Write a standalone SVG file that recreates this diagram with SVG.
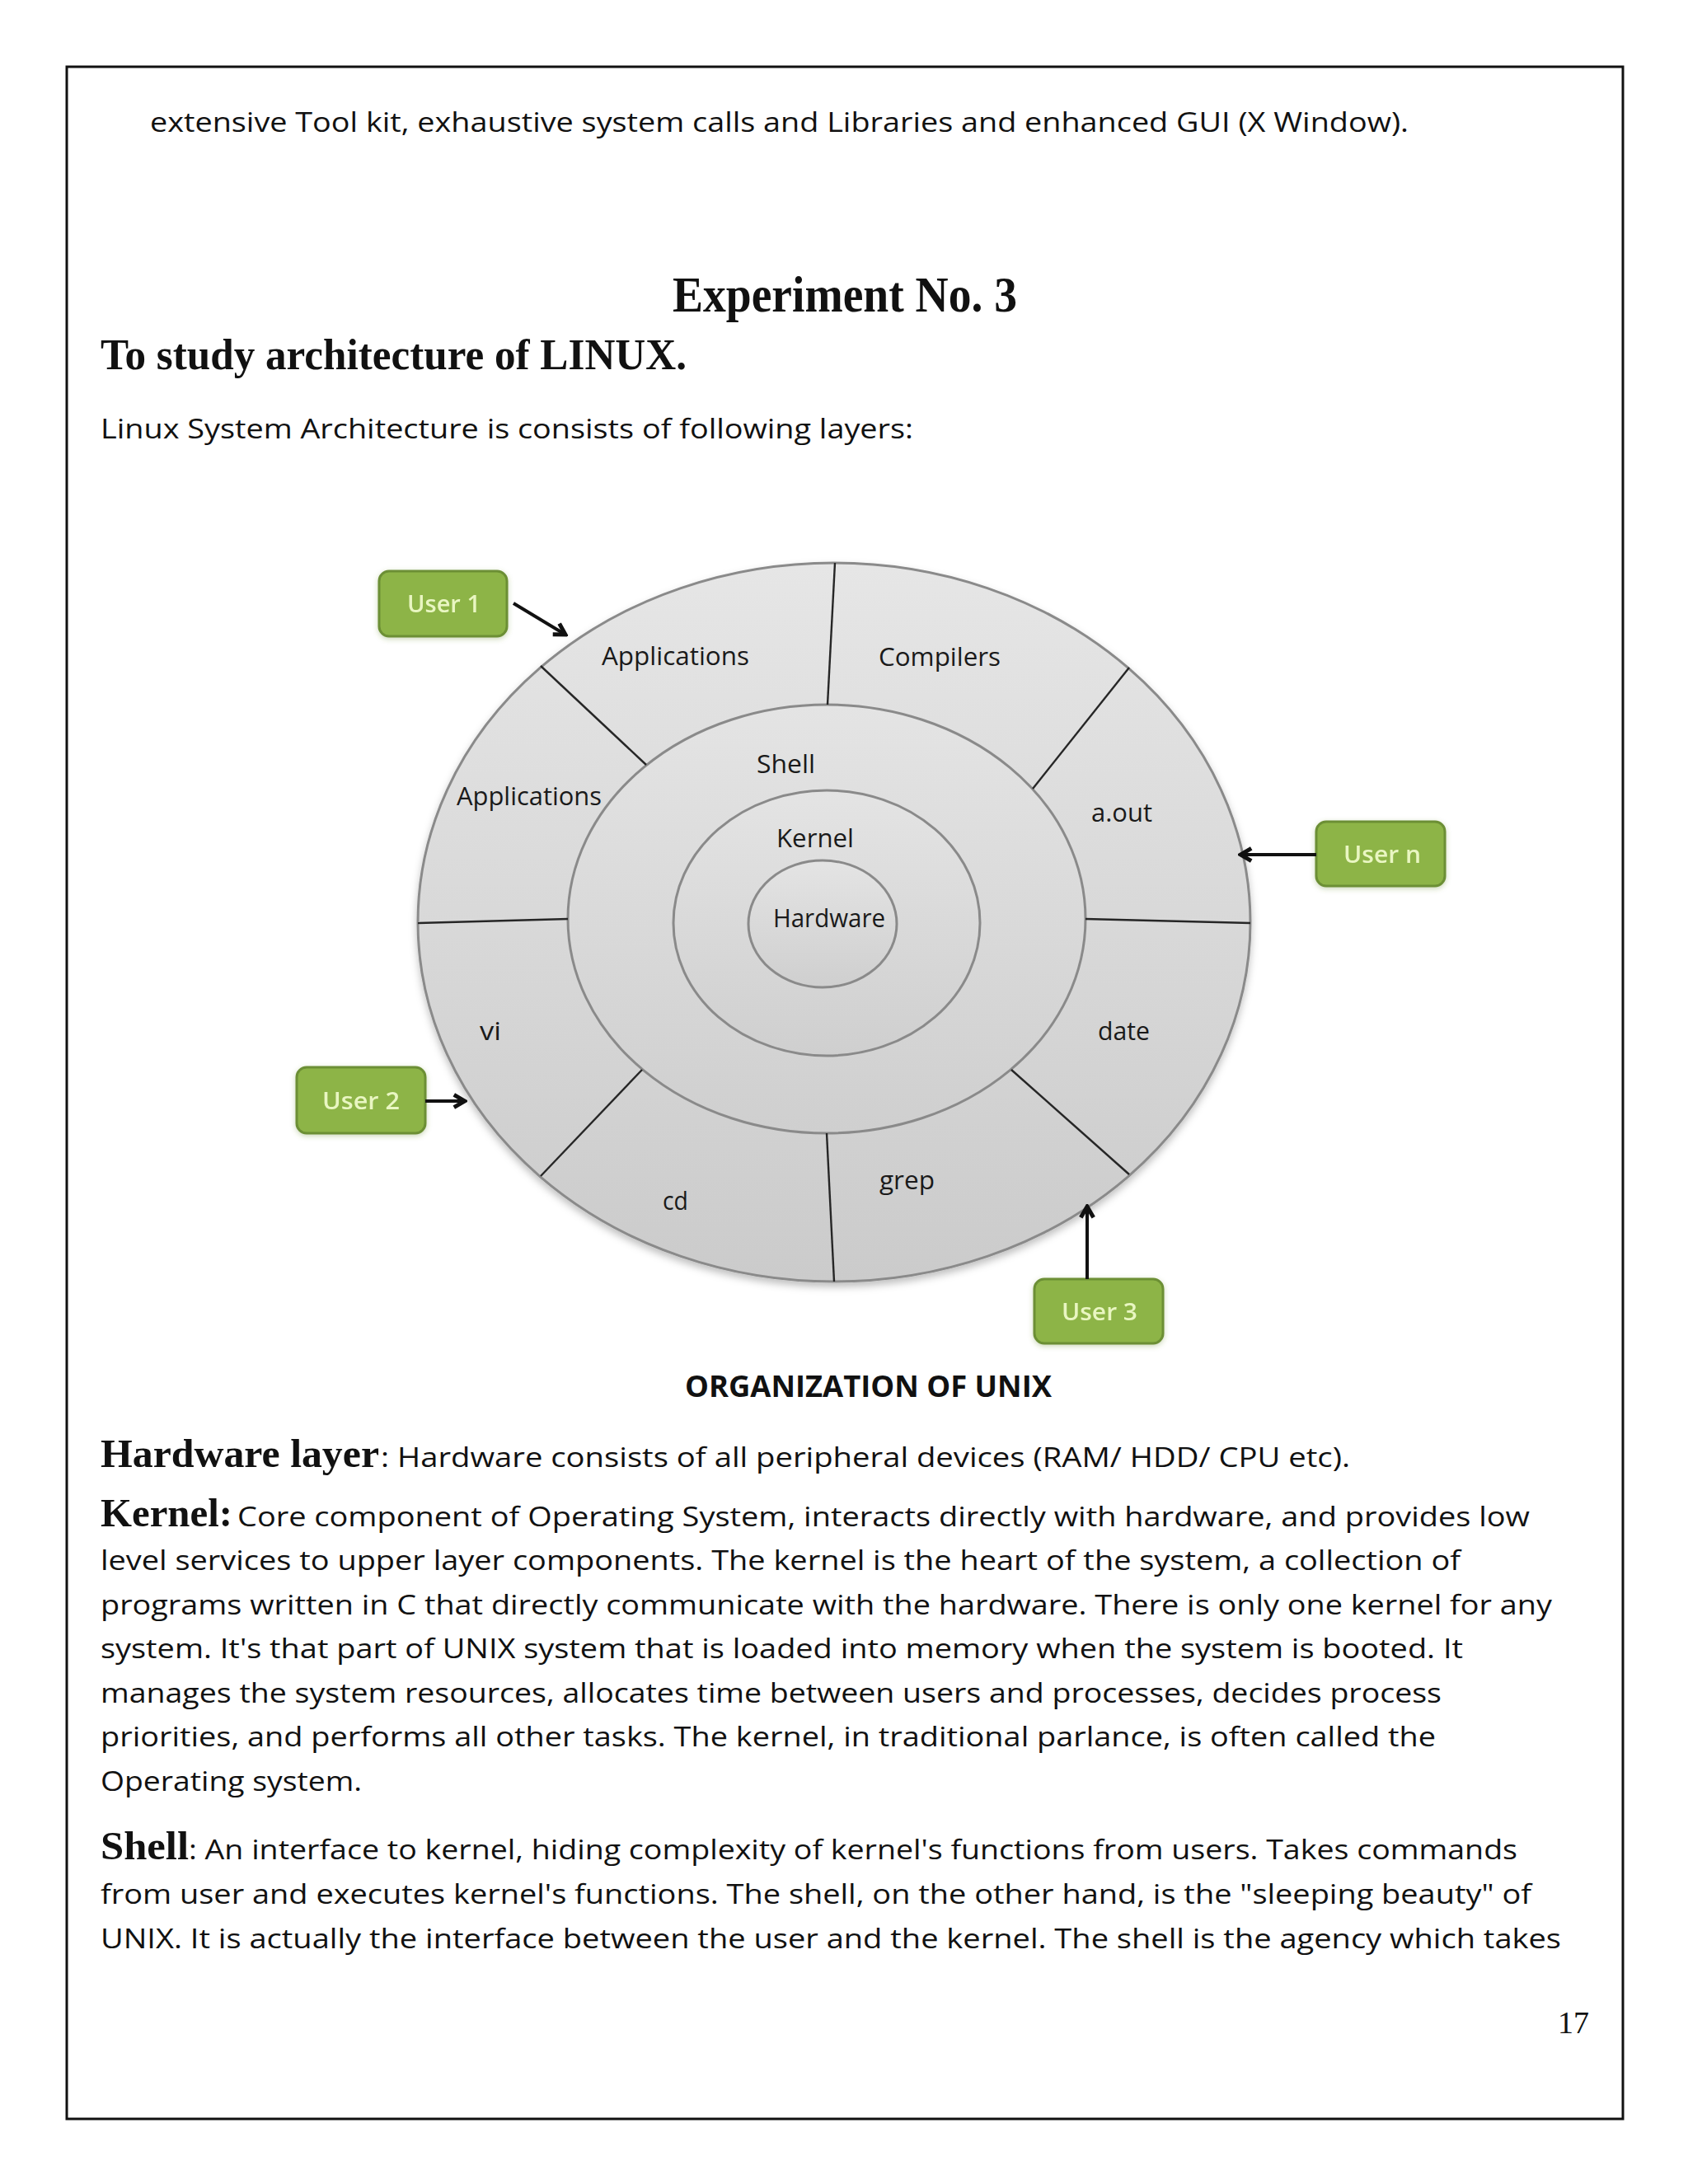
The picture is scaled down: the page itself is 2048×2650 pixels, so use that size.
<svg xmlns="http://www.w3.org/2000/svg" width="2048" height="2650" viewBox="0 0 2048 2650">
<style>
.body{font-family:"Open Sans","Liberation Sans",Arial,sans-serif;font-size:33px;fill:#111}
.bh{font-family:"Liberation Serif","Times New Roman",serif;font-weight:bold;font-size:48px;fill:#111}
.lbl{font-family:"Open Sans","Liberation Sans",Arial,sans-serif;font-size:31px;fill:#1a1a1a}
.usr{font-family:"Open Sans","Liberation Sans",Arial,sans-serif;font-size:29px;font-weight:600;fill:#e9f6c2}
.ubox{fill:#8db446;stroke:#6c8f34;stroke-width:3}
.ring{stroke:#8a8a8a;stroke-width:3}
.div{stroke:#262626;stroke-width:2.4;fill:none}
.conn{stroke:#111;stroke-width:4;fill:none}
</style>
<defs>
<linearGradient id="g1" x1="0" y1="0" x2="0" y2="1">
<stop offset="0" stop-color="#e6e6e6"/>
<stop offset="1" stop-color="#cbcbcb"/>
</linearGradient>
<linearGradient id="g2" x1="0" y1="0" x2="0" y2="1">
<stop offset="0" stop-color="#e4e4e4"/>
<stop offset="1" stop-color="#cfcfcf"/>
</linearGradient>
<filter id="sh" x="-10%" y="-10%" width="120%" height="125%">
<feDropShadow dx="0" dy="5" stdDeviation="5" flood-color="#000" flood-opacity="0.25"/>
</filter>
<filter id="sh2" x="-20%" y="-20%" width="140%" height="150%">
<feDropShadow dx="0" dy="2" stdDeviation="3" flood-color="#6c8f34" flood-opacity="0.35"/>
</filter>
<marker id="ah" viewBox="0 0 20 20" refX="17" refY="10" markerWidth="22" markerHeight="22" markerUnits="userSpaceOnUse" orient="auto">
<path d="M5,3 L17,10 L5,17" fill="none" stroke="#111" stroke-width="4.5"/>
</marker>
</defs>
<rect width="2048" height="2650" fill="#fff"/>
<rect x="81" y="81" width="1888" height="2490" fill="none" stroke="#111" stroke-width="3"/>

<g id="page-text">
<text class="body" x="182" y="160" textLength="1527" lengthAdjust="spacingAndGlyphs">extensive Tool kit, exhaustive system calls and Libraries and enhanced GUI (X Window).</text>
<text x="816" y="378" textLength="418" lengthAdjust="spacingAndGlyphs" style="font-family:'Liberation Serif','Times New Roman',serif;font-weight:bold;font-size:61px;fill:#111">Experiment No. 3</text>
<text x="122" y="448" textLength="711" lengthAdjust="spacingAndGlyphs" style="font-family:'Liberation Serif','Times New Roman',serif;font-weight:bold;font-size:52px;fill:#111">To study architecture of LINUX.</text>
<text class="body" x="122" y="532" textLength="986" lengthAdjust="spacingAndGlyphs">Linux System Architecture is consists of following layers:</text>
<text x="831" y="1695" textLength="445" lengthAdjust="spacingAndGlyphs" style="font-family:'Open Sans','Liberation Sans',Arial,sans-serif;font-weight:bold;font-size:36px;fill:#111">ORGANIZATION OF UNIX</text>

<text class="bh" x="122" y="1780" textLength="338" lengthAdjust="spacingAndGlyphs">Hardware layer</text>
<text class="body" x="462" y="1780" textLength="1176" lengthAdjust="spacingAndGlyphs">: Hardware consists of all peripheral devices (RAM/ HDD/ CPU etc).</text>

<text class="bh" x="122" y="1852" textLength="160" lengthAdjust="spacingAndGlyphs">Kernel:</text>
<text class="body" x="288" y="1852" textLength="1568" lengthAdjust="spacingAndGlyphs">Core component of Operating System, interacts directly with hardware, and provides low</text>
<text class="body" x="122" y="1905" textLength="1650" lengthAdjust="spacingAndGlyphs">level services to upper layer components. The kernel is the heart of the system, a collection of</text>
<text class="body" x="122" y="1959" textLength="1761" lengthAdjust="spacingAndGlyphs">programs written in C that directly communicate with the hardware. There is only one kernel for any</text>
<text class="body" x="122" y="2012" textLength="1653" lengthAdjust="spacingAndGlyphs">system. It's that part of UNIX system that is loaded into memory when the system is booted. It</text>
<text class="body" x="122" y="2066" textLength="1627" lengthAdjust="spacingAndGlyphs">manages the system resources, allocates time between users and processes, decides process</text>
<text class="body" x="122" y="2119" textLength="1620" lengthAdjust="spacingAndGlyphs">priorities, and performs all other tasks. The kernel, in traditional parlance, is often called the</text>
<text class="body" x="122" y="2173" textLength="317" lengthAdjust="spacingAndGlyphs">Operating system.</text>

<text class="bh" x="122" y="2256" textLength="107" lengthAdjust="spacingAndGlyphs">Shell</text>
<text class="body" x="229" y="2256" textLength="1612" lengthAdjust="spacingAndGlyphs">: An interface to kernel, hiding complexity of kernel's functions from users. Takes commands</text>
<text class="body" x="122" y="2310" textLength="1736" lengthAdjust="spacingAndGlyphs">from user and executes kernel's functions. The shell, on the other hand, is the "sleeping beauty" of</text>
<text class="body" x="122" y="2364" textLength="1772" lengthAdjust="spacingAndGlyphs">UNIX. It is actually the interface between the user and the kernel. The shell is the agency which takes</text>

<text x="1890" y="2467" style="font-family:'Liberation Serif','Times New Roman',serif;font-size:38px;fill:#111">17</text>
</g>

<g id="layer-applications">
<ellipse cx="1012" cy="1119" rx="505" ry="436" fill="url(#g1)" class="ring" filter="url(#sh)"/>
</g>
<g id="layer-shell">
<ellipse cx="1003" cy="1115" rx="314" ry="260" fill="url(#g2)" class="ring"/>
</g>
<g id="layer-kernel">
<ellipse cx="1003" cy="1120" rx="186" ry="161" fill="url(#g2)" class="ring"/>
</g>
<g id="layer-hardware">
<ellipse cx="998" cy="1121" rx="90" ry="77" fill="url(#g2)" class="ring"/>
</g>

<g id="dividers">
<line class="div" x1="1004" y1="855" x2="1013" y2="683"/>
<line class="div" x1="1253" y1="957" x2="1370" y2="810"/>
<line class="div" x1="1317" y1="1115" x2="1517" y2="1120"/>
<line class="div" x1="1227" y1="1298" x2="1370" y2="1425"/>
<line class="div" x1="1003" y1="1375" x2="1012" y2="1555"/>
<line class="div" x1="779" y1="1298" x2="656" y2="1427"/>
<line class="div" x1="689" y1="1115" x2="507" y2="1120"/>
<line class="div" x1="784" y1="928" x2="656" y2="808"/>
</g>

<g id="labels">
<text class="lbl" x="730" y="807" textLength="179" lengthAdjust="spacingAndGlyphs">Applications</text>
<text class="lbl" x="1066" y="808" textLength="148" lengthAdjust="spacingAndGlyphs">Compilers</text>
<text class="lbl" x="554" y="977" textLength="176" lengthAdjust="spacingAndGlyphs">Applications</text>
<text class="lbl" x="1324" y="997" textLength="74" lengthAdjust="spacingAndGlyphs">a.out</text>
<text class="lbl" x="582" y="1262" textLength="26" lengthAdjust="spacingAndGlyphs">vi</text>
<text class="lbl" x="1332" y="1262" textLength="63" lengthAdjust="spacingAndGlyphs">date</text>
<text class="lbl" x="804" y="1468" textLength="31" lengthAdjust="spacingAndGlyphs">cd</text>
<text class="lbl" x="1067" y="1443" textLength="67" lengthAdjust="spacingAndGlyphs">grep</text>
<text class="lbl" x="918" y="938" textLength="71" lengthAdjust="spacingAndGlyphs">Shell</text>
<text class="lbl" x="942" y="1028" textLength="94" lengthAdjust="spacingAndGlyphs">Kernel</text>
<text class="lbl" x="938" y="1125" textLength="136" lengthAdjust="spacingAndGlyphs">Hardware</text>
</g>

<g id="user1" filter="url(#sh2)">
<rect class="ubox" x="460" y="693" width="155" height="79" rx="12"/>
<text class="usr" x="494" y="743" textLength="89" lengthAdjust="spacingAndGlyphs">User 1</text>
</g>
<g id="usern" filter="url(#sh2)">
<rect class="ubox" x="1597" y="997" width="156" height="78" rx="12"/>
<text class="usr" x="1630" y="1047" textLength="94" lengthAdjust="spacingAndGlyphs">User n</text>
</g>
<g id="user2" filter="url(#sh2)">
<rect class="ubox" x="360" y="1295" width="156" height="80" rx="12"/>
<text class="usr" x="391" y="1346" textLength="94" lengthAdjust="spacingAndGlyphs">User 2</text>
</g>
<g id="user3" filter="url(#sh2)">
<rect class="ubox" x="1255" y="1552" width="156" height="78" rx="12"/>
<text class="usr" x="1288" y="1602" textLength="92" lengthAdjust="spacingAndGlyphs">User 3</text>
</g>

<g id="connectors">
<line class="conn" x1="623" y1="732" x2="686" y2="770" marker-end="url(#ah)"/>
<line class="conn" x1="1597" y1="1037" x2="1505" y2="1037" marker-end="url(#ah)"/>
<line class="conn" x1="516" y1="1336" x2="564" y2="1336" marker-end="url(#ah)"/>
<line class="conn" x1="1319" y1="1552" x2="1319" y2="1464" marker-end="url(#ah)"/>
</g>
</svg>
